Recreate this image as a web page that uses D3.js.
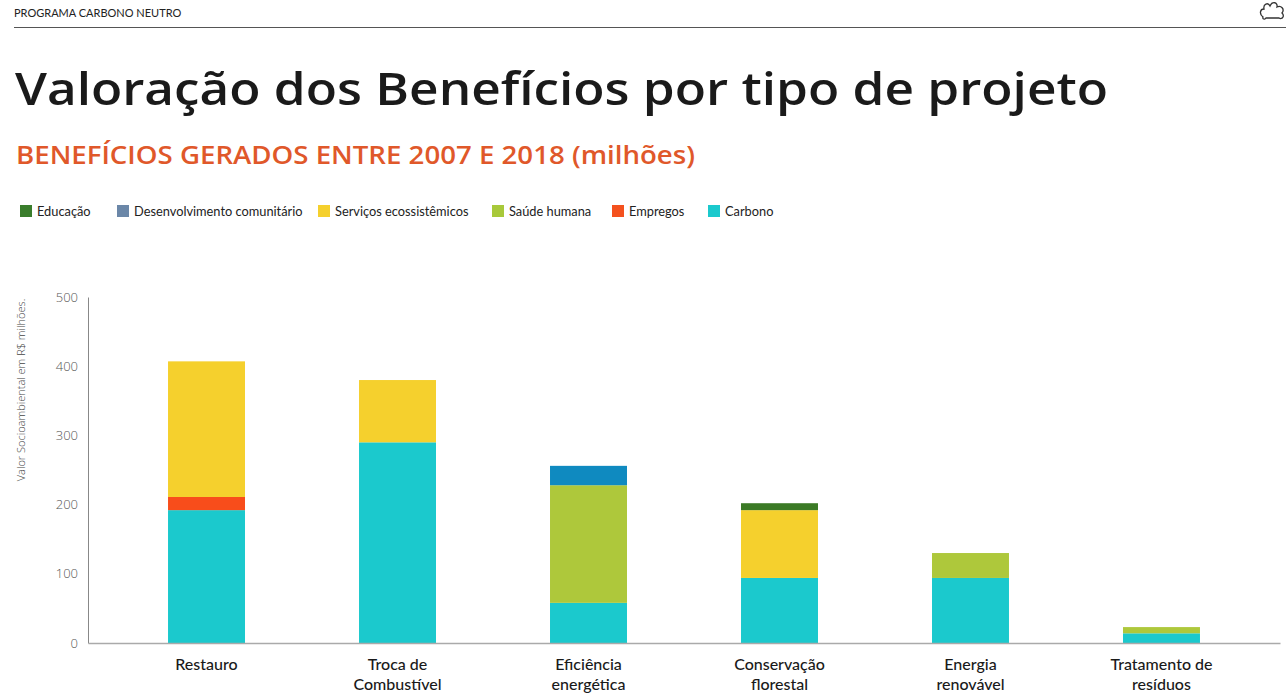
<!DOCTYPE html>
<html><head><meta charset="utf-8">
<script src="https://cdn.jsdelivr.net/npm/d3@7/dist/d3.min.js"></script>
<style>body{margin:0;background:#fff}svg{display:block}</style>
</head><body>
<svg id="c" width="1288" height="696"></svg>
<script>
const categories = ["Restauro","Troca de\nCombustível","Eficiência\nenergética","Conservação\nflorestal","Energia\nrenovável","Tratamento de\nresíduos"];
const seriesNames = ["Carbono","Empregos","Saúde humana","Serviços ecossistêmicos","Desenvolvimento comunitário","Educação"];
const carbono = [192, 290, 58, 94, 94, 14];
const empregos = [19, 0, 0, 0, 0, 0];
const saude = [0, 0, 170, 0, 36, 9];
const servicos = [196, 90, 0, 98, 0, 0];
const desenvolvimento = [0, 0, 28, 0, 0, 0];
const educacao = [0, 0, 0, 10, 0, 0];
const yTicks = [0,100,200,300,400,500];
const legendOrder = ["Educação","Desenvolvimento comunitário","Serviços ecossistêmicos","Saúde humana","Empregos","Carbono"];

const values = {"Carbono":carbono,"Empregos":empregos,"Saúde humana":saude,"Serviços ecossistêmicos":servicos,"Desenvolvimento comunitário":desenvolvimento,"Educação":educacao};
const barColor = {"Carbono":"#1bc9cd","Empregos":"#f84d1b","Saúde humana":"#aec83b","Serviços ecossistêmicos":"#f5d02d","Desenvolvimento comunitário":"#0f8ac0","Educação":"#3b7a25"};
const legendColor = {"Carbono":"#1bc9cd","Empregos":"#f4511e","Saúde humana":"#a8c93a","Serviços ecossistêmicos":"#f5d02d","Desenvolvimento comunitário":"#6b87a8","Educação":"#3a7d2c"};

const svg = d3.select("#c");
const font = "Lato, 'Open Sans', sans-serif";

// header
svg.append("text").attr("x",14).attr("y",17).attr("font-family",font).attr("font-size",11).attr("fill","#222").text("PROGRAMA CARBONO NEUTRO");
svg.append("line").attr("x1",14).attr("x2",1286).attr("y1",27.5).attr("y2",27.5).attr("stroke","#555").attr("stroke-width",1.2);
// logo
svg.append("path").attr("d","M1263,17 C1259,14 1260,9 1264,9 C1263,4 1268,2 1270,6 C1272,1 1278,2 1277,7 C1281,5 1285,9 1282,13 C1285,16 1282,20 1279,18 L1266,18 C1265,20 1262,19 1263,17 Z")
  .attr("fill","none").attr("stroke","#333").attr("stroke-width",1.3);

svg.append("text").attr("x",15).attr("y",105).attr("font-family","'Open Sans', sans-serif").attr("font-weight",600).attr("font-size",46).attr("fill","#1a1a1a")
  .attr("textLength",1093).attr("lengthAdjust","spacingAndGlyphs").text("Valoração dos Benefícios por tipo de projeto");
svg.append("text").attr("x",16).attr("y",164).attr("font-family","'Open Sans', sans-serif").attr("font-weight",600).attr("font-size",25).attr("fill","#e0582a")
  .attr("textLength",679).attr("lengthAdjust","spacingAndGlyphs").text("BENEFÍCIOS GERADOS ENTRE 2007 E 2018 (milhões)");

// legend
const legX = [20,117,318,492,612,708];
legendOrder.forEach((n,i)=>{
  const g = svg.append("g").attr("transform",`translate(${legX[i]},205)`);
  g.append("rect").attr("width",12).attr("height",12).attr("fill",legendColor[n]);
  g.append("text").attr("x",17).attr("y",10.5).attr("font-family",font).attr("font-size",12.8).attr("fill","#222").text(n);
});

// scales
const x = d3.scaleBand().domain(categories).range([88,1280]).paddingInner(0.597).paddingOuter(0.419);
const y = d3.scaleLinear().domain([0,500]).range([643,297]);

const stack = d3.stack().keys(seriesNames).value((d,k)=>values[k][d]);
const stacked = stack(d3.range(categories.length));

svg.append("g").selectAll("g").data(stacked).join("g").attr("fill",d=>barColor[d.key])
  .selectAll("rect").data(d=>d).join("rect")
  .attr("x",(d,i)=>x(categories[i])).attr("width",x.bandwidth())
  .attr("y",d=>y(d[1])).attr("height",d=>y(d[0])-y(d[1]));

// y axis
const ya = svg.append("g").attr("transform","translate(88,0)").call(d3.axisLeft(y).tickValues(yTicks).tickSize(0).tickPadding(10));
ya.select(".domain").attr("stroke","#888");
ya.selectAll("text").attr("font-family","'Open Sans', sans-serif").attr("font-weight",300).attr("font-size",13).attr("fill","#555");

// x axis
const xa = svg.append("g").attr("transform","translate(0,643)").call(d3.axisBottom(x).tickSize(0).tickFormat(""));
xa.select(".domain").attr("stroke","#aaa").attr("stroke-width",1.5);
categories.forEach(c=>{
  const lines = c.split("\n");
  const t = svg.append("text").attr("x",x(c)+x.bandwidth()/2).attr("y",670).attr("text-anchor","middle")
    .attr("font-family",font).attr("font-weight",500).attr("font-size",16).attr("fill","#1a1a1a");
  lines.forEach((l,i)=>t.append("tspan").attr("x",x(c)+x.bandwidth()/2).attr("dy",i?20:0).text(l));
});

svg.append("text").attr("transform","translate(25,390) rotate(-90)").attr("text-anchor","middle")
  .attr("font-family","'Open Sans', sans-serif").attr("font-weight",300).attr("font-size",11).attr("fill","#444")
  .text("Valor Socioambiental em R$ milhões.");
</script>
</body></html>
